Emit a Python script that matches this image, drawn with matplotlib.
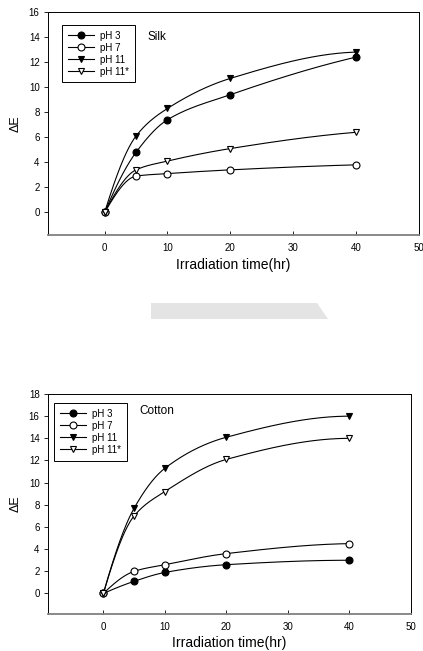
import matplotlib
matplotlib.use("Agg")
import matplotlib.pyplot as plt
import numpy as np
from matplotlib.patches import Polygon

plt.rcParams['font.family'] = ['Liberation Sans', 'DejaVu Sans']

time_hr = [0, 5, 10, 20, 40]
labels = ["pH 3", "pH 7", "pH 11", "pH 11*"]

silk_ph3 = [0, 4.8, 7.4, 9.4, 12.4]
silk_ph7 = [0, 2.9, 3.1, 3.4, 3.8]
silk_ph11 = [0, 6.1, 8.3, 10.7, 12.8]
silk_ph11s = [0, 3.4, 4.1, 5.1, 6.4]

cotton_ph3 = [0, 1.1, 1.9, 2.6, 3.0]
cotton_ph7 = [0, 2.0, 2.6, 3.6, 4.5]
cotton_ph11 = [0, 7.7, 11.3, 14.1, 16.0]
cotton_ph11s = [0, 7.0, 9.2, 12.1, 14.0]

markers = [("o", "black"), ("o", "white"), ("v", "black"), ("v", "white")]


def smooth_curve(x, y, n=300):
    # monotone cubic (pchip) through the points, only for drawing the line
    x = np.asarray(x, float)
    y = np.asarray(y, float)
    h = np.diff(x)
    d = np.diff(y) / h
    m = np.zeros_like(y)
    for i in range(1, len(x) - 1):
        if d[i - 1] * d[i] > 0:
            w1 = 2 * h[i] + h[i - 1]
            w2 = h[i] + 2 * h[i - 1]
            m[i] = (w1 + w2) / (w1 / d[i - 1] + w2 / d[i])
    m[0] = ((2 * h[0] + h[1]) * d[0] - h[0] * d[1]) / (h[0] + h[1])
    if np.sign(m[0]) != np.sign(d[0]):
        m[0] = 0
    m[-1] = ((2 * h[-1] + h[-2]) * d[-1] - h[-1] * d[-2]) / (h[-1] + h[-2])
    if np.sign(m[-1]) != np.sign(d[-1]):
        m[-1] = 0
    xs = np.linspace(x[0], x[-1], n)
    idx = np.clip(np.searchsorted(x, xs) - 1, 0, len(x) - 2)
    hh = h[idx]
    t = (xs - x[idx]) / hh
    h00 = 2 * t ** 3 - 3 * t ** 2 + 1
    h10 = t ** 3 - 2 * t ** 2 + t
    h01 = -2 * t ** 3 + 3 * t ** 2
    h11 = t ** 3 - t ** 2
    ys = h00 * y[idx] + h10 * hh * m[idx] + h01 * y[idx + 1] + h11 * hh * m[idx + 1]
    return xs, ys


def panel(ax, series, title, ylim, yticks, title_xy, leg_anchor):
    for vals, lab, (mk, fc) in zip(series, labels, markers):
        xs, ys = smooth_curve(time_hr, vals)
        ax.plot(xs, ys, color="black", lw=0.8)
        ax.plot(time_hr, vals, ls="none", marker=mk, ms=5, mfc=fc,
                mec="black", mew=0.8)
        ax.plot([], [], color="black", lw=0.8, marker=mk, ms=5, mfc=fc,
                mec="black", mew=0.8, label=lab)
    ax.set_xlim(-9, 50)
    ax.set_ylim(*ylim)
    ax.set_xticks([0, 10, 20, 30, 40, 50])
    ax.set_yticks(yticks)
    ax.tick_params(axis="x", direction="in", length=3, width=0.6,
                   labelsize=7, pad=6)
    ax.tick_params(axis="y", direction="out", length=3, width=0.6,
                   labelsize=7, pad=3)
    for s in ["top", "right", "left"]:
        ax.spines[s].set_linewidth(0.7)
    ax.spines["bottom"].set_color("#808080")
    ax.spines["bottom"].set_linewidth(1.3)
    ax.set_xlabel("Irradiation time(hr)", fontsize=10, labelpad=3)
    ax.set_ylabel("ΔE", fontsize=9, labelpad=5)
    ax.text(title_xy[0], title_xy[1], title, fontsize=8.5,
            ha="left", va="center")
    leg = ax.legend(loc="upper left", bbox_to_anchor=leg_anchor,
                    fontsize=7, frameon=True,
                    fancybox=False, edgecolor="black", framealpha=1,
                    handlelength=2.7, handletextpad=0.6, labelspacing=0.2,
                    borderpad=0.6, borderaxespad=0)
    leg.get_frame().set_linewidth(0.7)


fig = plt.figure(figsize=(4.23, 6.51), dpi=100)
W, H = 423, 651
ax1 = fig.add_axes([48 / W, 1 - 235 / H, (419 - 48) / W, (235 - 12) / H])
ax2 = fig.add_axes([48 / W, 1 - 614 / H, (411 - 48) / W, (614 - 394) / H])

panel(ax1, [silk_ph3, silk_ph7, silk_ph11, silk_ph11s], "Silk",
      (-1.8, 16), range(0, 17, 2), (6.8, 14.0), (0.038, 0.942))
panel(ax2, [cotton_ph3, cotton_ph7, cotton_ph11, cotton_ph11s], "Cotton",
      (-1.85, 18), range(0, 19, 2), (5.8, 16.5), (0.017, 0.959))

# faint grey band between the two panels
band = Polygon([[151 / W, 1 - 303 / H], [317 / W, 1 - 303 / H],
                [328 / W, 1 - 319 / H], [151 / W, 1 - 319 / H]],
               closed=True, transform=fig.transFigure, facecolor="#e4e4e4",
               edgecolor="none")
fig.patches.append(band)

fig.savefig("out.png", dpi=100)
